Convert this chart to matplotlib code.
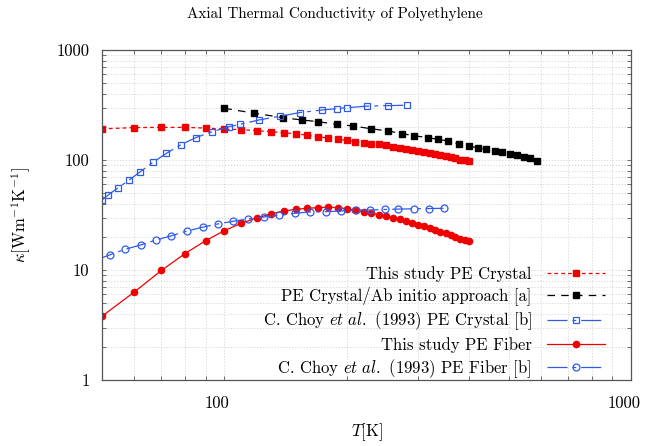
import numpy as np
import matplotlib as mpl
mpl.use('Agg')
import matplotlib.pyplot as plt
import matplotlib.transforms as mtrans
from matplotlib.ticker import FixedLocator, FuncFormatter, NullFormatter

plt.rcParams['font.family'] = 'serif'
plt.rcParams['font.serif'] = ['cmr10', 'DejaVu Serif']
plt.rcParams['mathtext.fontset'] = 'cm'
plt.rcParams['axes.formatter.use_mathtext'] = True

# this study, PE crystal (red squares) and PE fiber (red circles), same T grid
t_study = [50, 60, 70, 80, 90, 100, 110, 120, 130, 140, 150, 160, 170, 180, 190,
           200, 210, 220, 230, 240, 250, 260, 270, 280, 290, 300, 310, 320, 330,
           340, 350, 360, 370, 380, 390, 400]
k_crystal = [192, 197, 198, 198, 195, 191, 189, 185, 181, 177, 173, 168, 163, 158,
             154, 151, 147, 144, 141, 139, 136, 132, 129, 127, 123, 121, 118, 115,
             113, 110, 108, 106, 104, 101, 99.5, 98]
k_fiber = [3.8, 6.3, 9.9, 14.1, 18.5, 22.8, 26.6, 29.7, 32.3, 34.4, 35.6, 36.4,
           36.9, 37.2, 36.9, 35.9, 35.0, 33.7, 32.8, 31.8, 30.8, 29.8, 28.8, 27.8,
           26.8, 25.8, 24.9, 24.0, 23.1, 22.3, 21.5, 20.7, 20.0, 19.3, 18.8, 18.3]

# PE crystal, ab initio approach [a]
t_abinitio = [100, 118, 139, 155, 170, 189, 207, 230, 252, 273, 293, 316, 335, 355,
              377, 399, 420, 440, 462, 483, 504, 525, 545, 566, 588]
k_abinitio = [295, 267, 243, 231, 223, 211, 204, 192, 184, 174, 166, 160, 154, 149,
              140, 134, 129, 125, 122, 117, 114, 111, 107, 104, 98.6]

# C. Choy et al. (1993), PE crystal [b]
t_choy_crystal = [50, 51.8, 54.8, 58.3, 62.0, 66.9, 72.0, 78.0, 85.1, 93.4, 102.9,
                  109.3, 121.5, 137, 153.5, 174, 188.7, 200.5, 224.5, 253, 281]
k_choy_crystal = [43.3, 48.1, 56.0, 65.8, 77.8, 95.9, 115, 137, 160, 181, 201,
                  211, 231, 250, 270, 285, 293, 299, 309, 312, 315]

# C. Choy et al. (1993), PE fiber [b]
t_choy_fiber = [48, 52.2, 56.9, 62.3, 67.8, 73.9, 80.9, 88.4, 96.3, 104.8, 114.4,
                124.8, 136.2, 148.9, 162.2, 177.3, 193.1, 210.2, 228, 248, 268,
                292, 318, 346]
k_choy_fiber = [12.2, 13.7, 15.4, 16.9, 18.7, 20.4, 22.6, 24.5, 26.2, 27.7, 29.1,
                30.3, 31.4, 32.8, 33.7, 33.9, 34.4, 35.1, 35.1, 35.5, 35.8, 36.0,
                36.2, 36.4]

red = '#f00000'
blue = '#2f5be8'

fig = plt.figure(figsize=(6.48, 4.46), dpi=100)
ax = fig.add_axes([102/648, 66/446, 529/648, 330/446])

ax.plot(t_study, k_crystal, color=red, lw=0.9, dashes=(3, 2.5), marker='s', ms=5,
        mec=red, mfc=red, label='This study PE Crystal')
ax.plot(t_abinitio, k_abinitio, color='black', lw=0.9, dashes=(6, 5), marker='s',
        ms=4.8, label='PE Crystal/Ab initio approach [a]')
ax.plot(t_choy_crystal, k_choy_crystal, color=blue, lw=0.9, dashes=(16, 4, 3, 4),
        marker='s', ms=5, mfc='none', mew=0.9,
        label=r'C. Choy $\mathit{et\ al.}$ (1993) PE Crystal [b]')
ax.plot(t_study, k_fiber, color=red, lw=0.9, marker='o', ms=4.5,
        label='This study PE Fiber')
ax.plot(t_choy_fiber, k_choy_fiber, color=blue, lw=0.9, dashes=(16, 4, 3, 4),
        marker='o', ms=5, mfc='none', mew=0.9,
        label=r'C. Choy $\mathit{et\ al.}$ (1993) PE Fiber [b]')

ax.set_xscale('log')
ax.set_yscale('log')
ax.set_xlim(50, 1000)
ax.set_ylim(1, 1000)

ax.xaxis.set_major_locator(FixedLocator([100, 1000]))
ax.xaxis.set_minor_locator(FixedLocator([60, 70, 80, 90, 200, 300, 400, 500, 600, 700, 800, 900]))
ax.yaxis.set_major_locator(FixedLocator([1, 10, 100, 1000]))
ax.yaxis.set_minor_locator(FixedLocator([m * d for d in (1, 10, 100) for m in range(2, 10)]))
fmt = FuncFormatter(lambda v, p: '%g' % v)
ax.xaxis.set_major_formatter(fmt)
ax.yaxis.set_major_formatter(fmt)
ax.xaxis.set_minor_formatter(NullFormatter())
ax.yaxis.set_minor_formatter(NullFormatter())

ax.tick_params(which='both', direction='in', top=True, right=True, length=3,
               width=0.6, color='#555555', labelsize=12)
ax.tick_params(axis='x', pad=11)
ax.tick_params(axis='y', pad=9)
for s in ax.spines.values():
    s.set_color('#555555')
    s.set_linewidth(0.9)

# x tick labels sit a little left of their ticks in the original
shift = mtrans.ScaledTranslation(-7/100, 0, fig.dpi_scale_trans)
for lab in ax.get_xticklabels():
    lab.set_transform(lab.get_transform() + shift)

ax.grid(True, which='both', color='#d4d4d4', lw=0.6, ls=(0, (1.5, 2)))
ax.set_axisbelow(True)

ax.set_xlabel(r'$T[\mathrm{K}]$', fontsize=12, labelpad=8)
ax.set_ylabel(r'$\kappa[\mathrm{Wm}^{-1}\mathrm{K}^{-1}]$', fontsize=12, labelpad=17)
fig.text(335/648, 1 - 14/446, 'Axial Thermal Conductivity of Polyethylene',
         ha='center', va='center', fontsize=10.9)

ax.legend(loc='lower right', bbox_to_anchor=(0.951, 0.0), frameon=False,
          markerfirst=False, fontsize=12, handlelength=3.5, handletextpad=0.9,
          labelspacing=0.27, borderpad=0, borderaxespad=0, numpoints=1)

fig.savefig('out.png', dpi=100)
